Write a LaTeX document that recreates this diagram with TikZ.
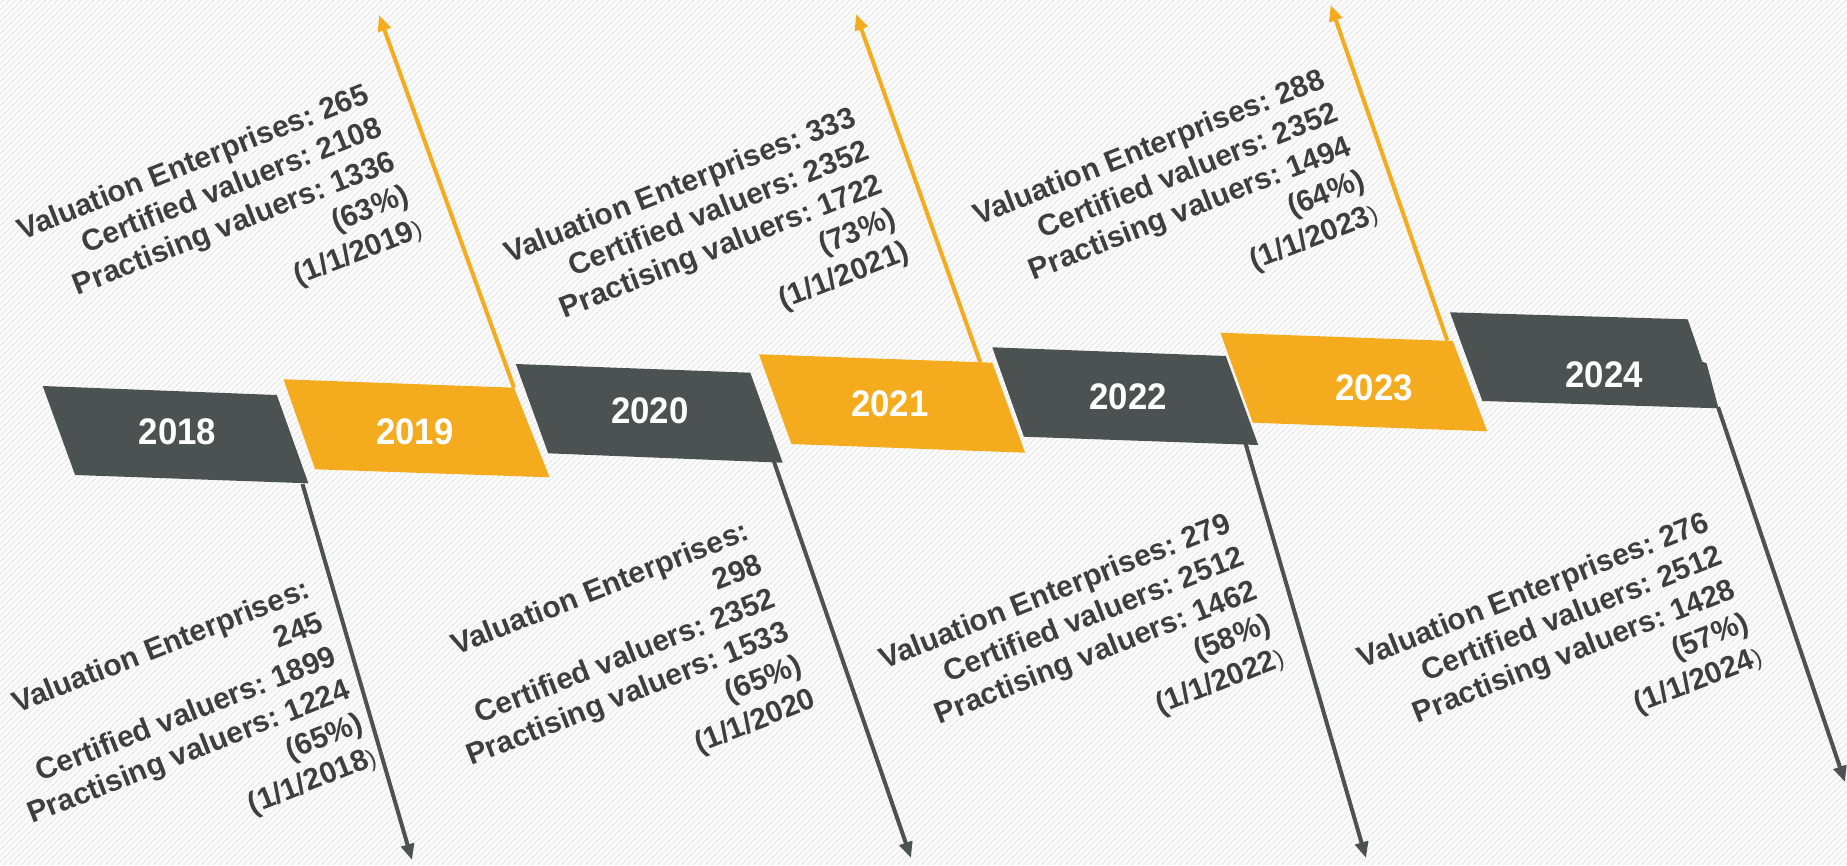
\documentclass[tikz,border=0pt]{standalone}
\usepackage{fontspec}
\setmainfont{Liberation Sans}
\newfontfamily\yearfont[FakeStretch=0.94]{Liberation Sans}
\usetikzlibrary{arrows.meta}
\definecolor{boxgray}{HTML}{4C5251}
\definecolor{boxorange}{HTML}{F4AC1E}
\definecolor{txtgray}{HTML}{3E3E3E}
\definecolor{bggray}{HTML}{EFEFEF}
\newcommand{\smallparen}{{\fontsize{24}{36}\mdseries\selectfont )}}
\begin{document}
\begin{tikzpicture}[x=1pt,y=1pt,
  yearlabel/.style={text=white, font=\yearfont\bfseries\fontsize{37}{40}\selectfont, inner sep=0pt},
  datatext/.style={text=txtgray, font=\frenchspacing\bfseries\fontsize{30}{36}\selectfont, align=right, rotate=21.6, anchor=base east, inner sep=0pt},
  uparrow/.style={draw=boxorange, line width=4pt, -{Triangle[length=16pt,width=13pt]}},
  downarrow/.style={draw=boxgray, line width=4pt, -{Triangle[length=16pt,width=13pt]}},
]
\useasboundingbox (0,0) rectangle (1847,-865);
% background
\fill[bggray] (0,0) rectangle (1847,-865);
\begin{scope}
\clip (0,0) rectangle (1847,-865);
\foreach \i in {-870,-864,...,1850} \draw[white, line width=2pt] (\i,-865) -- (\i+865,0);
\end{scope}

% arrow end points
\coordinate (s19) at (514,-387.7);   \coordinate (e19) at (379,-15);
\coordinate (s21) at (980.4,-362.7); \coordinate (e21) at (856,-14);
\coordinate (s23) at (1447.3,-340.7);\coordinate (e23) at (1330.6,-5);
\coordinate (s18) at (302.5,-484);   \coordinate (e18) at (412,-860);
\coordinate (s20) at (774,-461.7);   \coordinate (e20) at (911,-858);
\coordinate (s22) at (1245.4,-443);  \coordinate (e22) at (1366,-858);
\coordinate (s24) at (1718,-407);    \coordinate (e24) at (1845,-782);

\draw[uparrow] (s19) -- (e19);
\draw[uparrow] (s21) -- (e21);
\draw[uparrow] (s23) -- (e23);
\draw[downarrow] (s18) -- (e18);
\draw[downarrow] (s20) -- (e20);
\draw[downarrow] (s22) -- (e22);
\draw[downarrow] (s24) -- (e24);

% year boxes
\fill[boxgray]   (42.7,-386) -- (276.8,-395) -- (308.4,-483.3) -- (75.1,-475) -- cycle;
\fill[boxorange] (283.5,-379.3) -- (514,-387.7) -- (549.6,-477.3) -- (315.1,-469.3) -- cycle;
\fill[boxgray]   (515.8,-364) -- (750.3,-372.7) -- (782.7,-462.7) -- (548.2,-453.3) -- cycle;
\fill[boxorange] (759,-354.3) -- (992.3,-362.7) -- (1025.1,-452.7) -- (791.4,-444) -- cycle;
\fill[boxgray]   (992.3,-347.3) -- (1225.8,-356) -- (1258.2,-445) -- (1023.9,-436.7) -- cycle;
\fill[boxorange] (1220.4,-332.7) -- (1452.7,-341) -- (1487.3,-431.3) -- (1252.8,-422.7) -- cycle;
\fill[boxgray]   (1450,-312.3) -- (1687.7,-319.3) -- (1702.3,-361.7) -- (1706.6,-363.3) -- (1718.5,-408.3) -- (1482.4,-401) -- cycle;

\node[yearlabel] (y18) at (177.5,-431.7) {2018};
\node[yearlabel] (y19) at (415,-431.7) {2019};
\node[yearlabel] (y20) at (650,-410.8) {2020};
\node[yearlabel] (y21) at (890,-404) {2021};
\node[yearlabel] (y22) at (1128,-396.7) {2022};
\node[yearlabel] (y23) at (1374,-388) {2023};
\node[yearlabel] (y24) at (1604,-375) {2024};

% data texts (anchor = last line baseline; shifted from first-line position)
\node[datatext] (d19) at ([shift={(-68.4:144)}]371,-102) {Valuation Enterprises: 265\\Certified valuers: 2108\\Practising valuers: 1336\\(63\%)\\(1/1/2019\smallparen};
\node[datatext] (d21) at ([shift={(-68.4:144)}]858,-125) {Valuation Enterprises: 333\\Certified valuers: 2352\\Practising valuers: 1722\\(73\%)\\(1/1/2021)};
\node[datatext] (d23) at ([shift={(-68.4:144)}]1327,-87) {Valuation Enterprises: 288\\Certified valuers: 2352\\Practising valuers: 1494\\(64\%)\\(1/1/2023\smallparen};
\node[datatext] (d18) at ([shift={(-68.4:180)}]312,-597) {Valuation Enterprises:\\245\\Certified valuers: 1899\\Practising valuers: 1224\\(65\%)\\(1/1/2018\smallparen};
\node[datatext] (d20) at ([shift={(-68.4:180)}]751,-539) {Valuation Enterprises:\\298\\Certified valuers: 2352\\Practising valuers: 1533\\(65\%)\\(1/1/2020};
\node[datatext] (d22) at ([shift={(-68.4:144)}]1233,-531) {Valuation Enterprises: 279\\Certified valuers: 2512\\Practising valuers: 1462\\(58\%)\\(1/1/2022\smallparen};
\node[datatext] (d24) at ([shift={(-68.4:144)}]1711,-530) {Valuation Enterprises: 276\\Certified valuers: 2512\\Practising valuers: 1428\\(57\%)\\(1/1/2024\smallparen};
\end{tikzpicture}
\end{document}
